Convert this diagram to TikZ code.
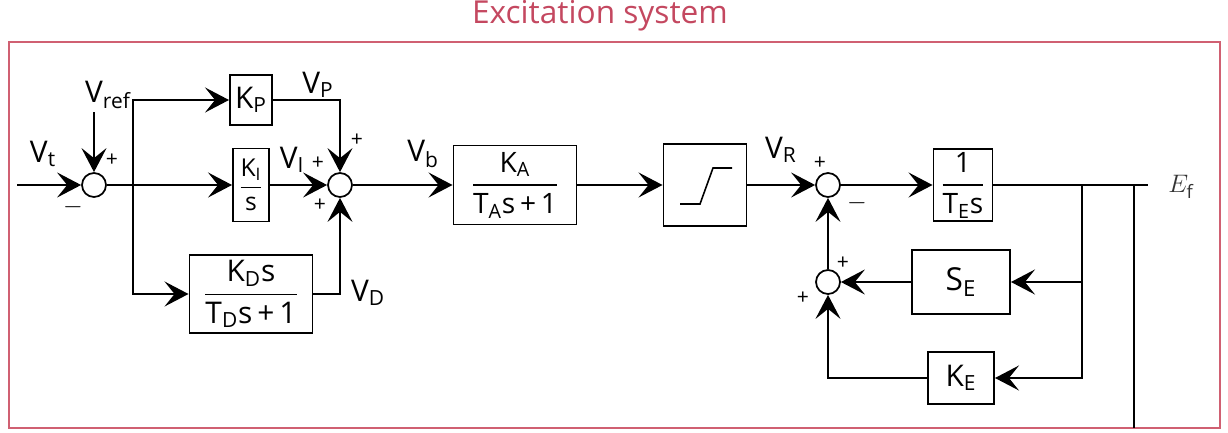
\documentclass[tikz,border=0pt]{standalone}
\usepackage{fontspec}
\setmainfont{Open Sans}
\usepackage{amsmath}
\usepackage{xcolor}
\usetikzlibrary{positioning, arrows.meta}
\usetikzlibrary{calc}
\definecolor{frameRed}{RGB}{208,96,114}
\definecolor{titleRed}{RGB}{196,72,96}

\begin{document}
\begin{tikzpicture}[
  block/.style={rectangle, draw=black, line width=1.1pt, inner sep=0pt, font=\fontsize{15}{17}\selectfont},
  sumnode/.style={circle, draw=black, line width=1pt, minimum size=0.48cm, inner sep=0pt},
  sig/.style={font=\fontsize{17}{19}\selectfont, inner sep=1pt},
  sgn/.style={font=\large, inner sep=0pt},
  line/.style={draw=black, line width=1.1pt},
  arr/.style={line, -{Stealth[length=4.8mm, width=5mm, inset=2mm]}},
  on grid
]
\useasboundingbox (0,0) rectangle (24.56,-8.66);

% === FRAME ===
\coordinate (fnw) at (0.18,-0.84);
\coordinate (fse) at (24.40,-8.56);
\draw[frameRed, line width=1pt] (fnw) rectangle (fse);
\node[font=\fontsize{18}{21}\selectfont, text=titleRed] (title) at (12.0,-0.32) {Excitation system};

% === BLOCKS ===
\node[sumnode] (sum1) at (1.88,-3.70) {};
\node[block, minimum width=0.72cm, minimum height=1.46cm, font=\fontsize{14}{16}\selectfont, right=3.14cm of sum1] (ki) {$\dfrac{\text{K}_\text{I}}{\text{s}}$};
\node[block, minimum width=0.84cm, minimum height=1.0cm, font=\fontsize{17}{19}\selectfont, above=1.70cm of ki] (kp) {K\textsubscript{P}};
\node[block, minimum width=2.46cm, minimum height=1.56cm, font=\fontsize{17}{19}\selectfont, below=2.18cm of ki] (kd) {$\dfrac{\text{K}_\text{D}\text{s}}{\text{T}_\text{D}\text{s\,+\,1}}$};
\node[sumnode, right=1.78cm of ki] (sum2) {};
\node[block, minimum width=2.46cm, minimum height=1.58cm, font=\fontsize{16}{18}\selectfont, right=3.50cm of sum2] (ka) {$\dfrac{\text{K}_\text{A}}{\text{T}_\text{A}\text{s\,+\,1}}$};
\node[block, minimum width=1.66cm, minimum height=1.64cm, right=3.80cm of ka] (lim) {};
\node[sumnode, right=2.46cm of lim] (sum3) {};
\node[block, minimum width=1.18cm, minimum height=1.44cm, font=\fontsize{16}{18}\selectfont, right=2.70cm of sum3] (te) {$\dfrac{\text{1}}{\text{T}_\text{E}\text{s}}$};
\node[sumnode, below=1.94cm of sum3] (sum4) {};
\node[block, minimum width=1.96cm, minimum height=1.28cm, font=\fontsize{18}{20}\selectfont, right=2.66cm of sum4] (se) {S\textsubscript{E}};
\node[block, minimum width=1.32cm, minimum height=1.04cm, font=\fontsize{17}{19}\selectfont, below=1.92cm of se] (ke) {K\textsubscript{E}};

% limiter
\draw[line width=0.9pt] ($(lim)+(-0.50,-0.38)$) -- ++(0.40,0) -- ($(lim)+(0.16,0.34)$) -- ++(0.38,0);

% === POINTS ===
\coordinate[left=1.54cm of sum1] (vin);
\coordinate[above=1.46cm of sum1] (vrefin);
\coordinate[right=0.78cm of sum1] (split);
\coordinate[right=2.38cm of te] (fb);
\coordinate[right=3.42cm of te] (tap);
\coordinate[right=3.70cm of te] (out);

% === CONNECTIONS ===
\draw[arr] (vin) -- (sum1);
\draw[arr] (vrefin) -- (sum1);
\draw[arr] (sum1) -- (ki);
\draw[arr] (split) |- (kp);
\draw[arr] (split) |- (kd);
\draw[arr] (kp) -| (sum2);
\draw[arr] (ki) -- (sum2);
\draw[arr] (kd) -| (sum2);
\draw[arr] (sum2) -- (ka);
\draw[arr] (ka) -- (lim);
\draw[arr] (lim) -- (sum3);
\draw[arr] (sum3) -- (te);
\draw[line] (te) -- (out);
\draw[arr] (fb) |- (se);
\draw[arr] (fb) |- (ke);
\draw[arr] (se) -- (sum4);
\draw[arr] (ke) -| (sum4);
\draw[arr] (sum4) -- (sum3);
\draw[line] (tap) -- (tap |- fse);

% === SIGNALS ===
\node[sig] (vt) at (0.86,-3.08) {V\textsubscript{t}};
\node[sig] (vref) at (2.16,-1.90) {V\textsubscript{ref}};
\node[sig] (vp) at (6.36,-1.70) {V\textsubscript{P}};
\node[sig] (vi) at (5.84,-3.20) {V\textsubscript{I}};
\node[sig] (vd) at (7.36,-5.86) {V\textsubscript{D}};
\node[sig] (vb) at (8.46,-3.08) {V\textsubscript{b}};
\node[sig] (vr) at (15.62,-3.00) {V\textsubscript{R}};
\node[font=\fontsize{15}{17}\selectfont, text=black!80] (ef) at (23.62,-3.74) {$E_\mathrm{f}$};

% === SIGNS ===
\node[sgn] at ($(sum1)+(0.36,0.50)$) {+};
\node[sgn, font=\Large] at ($(sum1)+(-0.42,-0.44)$) {$-$};
\node[sgn] at ($(sum2)+(0.34,0.90)$) {+};
\node[sgn] at ($(sum2)+(-0.44,0.44)$) {+};
\node[sgn] at ($(sum2)+(-0.40,-0.40)$) {+};
\node[sgn] at ($(sum3)+(-0.16,0.44)$) {+};
\node[sgn, font=\Large] at ($(sum3)+(0.58,-0.36)$) {$-$};
\node[sgn] at ($(sum4)+(0.30,0.38)$) {+};
\node[sgn] at ($(sum4)+(-0.50,-0.32)$) {+};

\end{tikzpicture}
\end{document}
